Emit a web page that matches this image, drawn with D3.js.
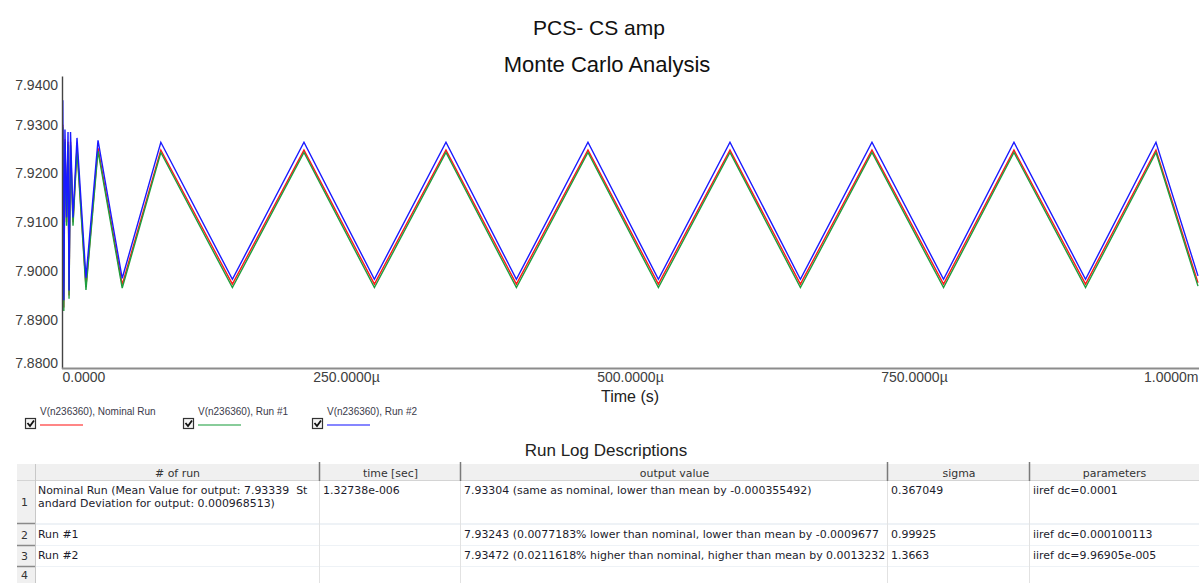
<!DOCTYPE html>
<html>
<head>
<meta charset="utf-8">
<script src="https://cdn.jsdelivr.net/npm/d3@7"></script>
<style>
  body { margin: 0; background: #fff; }
  svg { display: block; font-family: 'Liberation Sans', Arial, sans-serif; }
  svg text { white-space: pre; }
</style>
</head>
<body>
<div id="chart"></div>
<script>
// sample times in microseconds, shared by the three runs
const timeUs = [0, 0.7, 1.6, 2.6, 4.0, 5.3, 6.2, 7.5, 9.7, 13.2, 21.1, 31.7, 53,
  87, 150, 213, 275, 338, 400, 463, 525, 588, 650, 713, 776, 838, 901, 963, 1000]

const nominalRun = [7.8920, 7.9300, 7.8925, 7.9270, 7.9100, 7.9265, 7.8950, 7.9265, 7.9100, 7.9255, 7.8968, 7.9252, 7.8972,
  7.9248, 7.8973, 7.9248, 7.8973, 7.9248, 7.8973, 7.9248, 7.8973, 7.9248, 7.8973, 7.9248, 7.8973, 7.9248, 7.8973, 7.9248, 7.8976]
const run1 = [7.8915, 7.9295, 7.8918, 7.9265, 7.9093, 7.9260, 7.8943, 7.9258, 7.9093, 7.9249, 7.8961, 7.9246, 7.8965,
  7.9243, 7.8966, 7.9243, 7.8966, 7.9243, 7.8966, 7.9243, 7.8966, 7.9243, 7.8966, 7.9243, 7.8966, 7.9243, 7.8966, 7.9243, 7.8969]
const run2 = [7.8935, 7.9350, 7.8940, 7.9290, 7.9110, 7.9285, 7.8960, 7.9285, 7.9110, 7.9273, 7.8986, 7.9268, 7.8985,
  7.9264, 7.8983, 7.9264, 7.8983, 7.9264, 7.8983, 7.9264, 7.8983, 7.9264, 7.8983, 7.9264, 7.8983, 7.9264, 7.8983, 7.9264, 7.8990]

const seriesNames = ['V(n236360), Nominal Run', 'V(n236360), Run #1', 'V(n236360), Run #2']
const seriesColors = ['#ff1a1a', '#1e9e3e', '#1a1aff']

const yTicks = [7.88, 7.89, 7.90, 7.91, 7.92, 7.93, 7.94]
const xTicks = [0, 250, 500, 750, 1000]
const xTickLabels = ['0.0000', '250.0000µ', '500.0000µ', '750.0000µ', '1.0000m']

const tableHeaders = ['# of run', 'time [sec]', 'output value', 'sigma', 'parameters']
const runNameLines = [['Nominal Run (Mean Value for output: 7.93339  St', 'andard Deviation for output: 0.000968513)'], ['Run #1'], ['Run #2'], []]
const runTimes = ['1.32738e-006', '', '', '']
const outputValues = ['7.93304 (same as nominal, lower than mean by -0.000355492)',
  '7.93243 (0.0077183% lower than nominal, lower than mean by -0.0009677',
  '7.93472 (0.0211618% higher than nominal, higher than mean by 0.0013232', '']
const sigmas = ['0.367049', '0.99925', '1.3663', '']
const parameters = ['iiref dc=0.0001', 'iiref dc=0.000100113', 'iiref dc=9.96905e-005', '']

const W = 1199, H = 583
const plot = { left: 62, right: 1198, top: 76, bottom: 368.5 }

const svg = d3.select('#chart').append('svg')
  .attr('width', W).attr('height', H)

svg.append('rect').attr('width', W).attr('height', H).attr('fill', '#fff')

// titles
svg.append('text').attr('x', 599).attr('y', 35)
  .attr('text-anchor', 'middle').attr('font-size', 21).attr('fill', '#111')
  .text('PCS- CS amp')
svg.append('text').attr('x', 607).attr('y', 72)
  .attr('text-anchor', 'middle').attr('font-size', 22).attr('fill', '#111')
  .text('Monte Carlo Analysis')

const x = d3.scaleLinear().domain([0, 1000]).range([plot.left, plot.right])
const y = d3.scaleLinear().domain([7.88, 7.94]).range([plot.bottom, plot.top])

const defs = svg.append('defs')
defs.append('clipPath').attr('id', 'plotclip')
  .append('rect').attr('x', plot.left).attr('y', 70)
  .attr('width', W - plot.left).attr('height', plot.bottom - 70)

const line = d3.line()
  .x((d, i) => x(timeUs[i]))
  .y(d => y(d))

const lines = svg.append('g').attr('clip-path', 'url(#plotclip)')
;[nominalRun, run1, run2].forEach((s, k) => {
  lines.append('path')
    .datum(s)
    .attr('fill', 'none')
    .attr('stroke', seriesColors[k])
    .attr('stroke-width', 1.4)
    .attr('d', line)
})

// y axis
const yAxis = svg.append('g')
  .attr('transform', `translate(${plot.left},0)`)
  .call(d3.axisLeft(y).tickValues(yTicks).tickFormat(d3.format('.4f')).tickSize(0).tickPadding(4))
yAxis.select('.domain').attr('stroke', '#444').attr('stroke-width', 1.4)
yAxis.selectAll('text')
  .attr('font-family', "'Liberation Sans', Arial, sans-serif")
  .attr('font-size', 14).attr('fill', '#404040')
  .attr('dy', (d, i) => i === 0 ? '-0.05em' : (i === yTicks.length - 1 ? '0.95em' : '0.32em'))

// x axis
const xAxis = svg.append('g')
  .attr('transform', `translate(0,${plot.bottom})`)
  .call(d3.axisBottom(x).tickValues(xTicks).tickFormat((d, i) => xTickLabels[i]).tickSize(0).tickPadding(4))
xAxis.select('.domain').remove()
xAxis.append('line')
  .attr('x1', plot.left).attr('x2', W).attr('y1', 0).attr('y2', 0)
  .attr('stroke', '#8c8c8c').attr('stroke-width', 2)
xAxis.selectAll('text')
  .attr('font-family', "'Liberation Sans', Arial, sans-serif")
  .attr('font-size', 14).attr('fill', '#404040')
  .attr('text-anchor', (d, i) => i === 0 ? 'start' : (i === xTicks.length - 1 ? 'end' : 'middle'))

svg.append('text').attr('x', 630).attr('y', 402)
  .attr('text-anchor', 'middle').attr('font-size', 16).attr('fill', '#222')
  .text('Time (s)')

// legend
const legendX = [25, 183, 312]
const legend = svg.selectAll('.legend')
  .data(seriesNames)
  .enter().append('g')
  .attr('class', 'legend')
  .attr('transform', (d, i) => `translate(${legendX[i]},0)`)

legend.append('rect')
  .attr('x', 0.5).attr('y', 418.5).attr('width', 10).attr('height', 10)
  .attr('fill', '#f4f4f4').attr('stroke', '#333').attr('stroke-width', 1.2)
legend.append('path')
  .attr('d', 'M2.5,423 L5,426 L9,420.5')
  .attr('fill', 'none').attr('stroke', '#111').attr('stroke-width', 1.8)
legend.append('text')
  .attr('x', 15).attr('y', 415)
  .attr('font-size', 10).attr('fill', '#3a3a4a')
  .text(d => d)
legend.append('line')
  .attr('x1', 15).attr('x2', 58).attr('y1', 425).attr('y2', 425)
  .attr('stroke', (d, i) => seriesColors[i]).attr('stroke-opacity', 0.7).attr('stroke-width', 1.5)

// run log table
svg.append('text').attr('x', 606).attr('y', 456)
  .attr('text-anchor', 'middle').attr('font-size', 17).attr('fill', '#222')
  .text('Run Log Descriptions')

const colEdges = [17, 35, 320, 461, 888, 1030, W]
const headTop = 464, headBottom = 481
const rowTops = [481, 525, 546, 567]
const rowBottoms = [523, 545, 566, 583]
const tableFont = "'DejaVu Sans', Verdana, sans-serif"

// one clip per column so long cell text is cut at the column edge
colEdges.slice(1, 6).forEach((cx, c) => {
  defs.append('clipPath').attr('id', 'colclip' + c)
    .append('rect').attr('x', cx).attr('y', headTop)
    .attr('width', colEdges[c + 2] - cx - 2).attr('height', H - headTop)
})

const table = svg.append('g').attr('font-family', tableFont).attr('font-size', 10.95)

// header
table.append('rect').attr('x', colEdges[0]).attr('y', headTop)
  .attr('width', W - colEdges[0]).attr('height', headBottom - headTop)
  .attr('fill', '#f0f0f0')
table.append('line').attr('x1', colEdges[0]).attr('x2', W)
  .attr('y1', headBottom - 0.5).attr('y2', headBottom - 0.5)
  .attr('stroke', '#d4d4d4')
tableHeaders.forEach((h, c) => {
  const x0 = colEdges[c + 1], x1 = colEdges[c + 2]
  table.append('text')
    .attr('x', (x0 + x1) / 2).attr('y', headTop + 12.5)
    .attr('text-anchor', 'middle').attr('fill', '#333')
    .text(h)
  if (c > 0) {
    table.append('line').attr('x1', x0 - 0.5).attr('x2', x0 - 0.5)
      .attr('y1', headTop - 2).attr('y2', headBottom)
      .attr('stroke', '#7a7a7a').attr('stroke-width', 1.5)
  }
})

// row number column
table.append('rect').attr('x', colEdges[0]).attr('y', headBottom)
  .attr('width', colEdges[1] - colEdges[0]).attr('height', H - headBottom)
  .attr('fill', '#f0f0f0')
table.append('line').attr('x1', colEdges[1] + 0.5).attr('x2', colEdges[1] + 0.5)
  .attr('y1', headTop).attr('y2', H)
  .attr('stroke', '#c8c8c8')

rowTops.forEach((top, r) => {
  const bottom = rowBottoms[r]
  table.append('text')
    .attr('x', 21).attr('y', (top + bottom) / 2 + 4)
    .attr('fill', '#333')
    .text(r + 1)
  if (r < rowTops.length - 1) {
    // gap between rows
    table.append('rect').attr('x', colEdges[1] + 1).attr('y', bottom)
      .attr('width', W - colEdges[1]).attr('height', rowTops[r + 1] - bottom)
      .attr('fill', '#eef2f6')
    table.append('line').attr('x1', colEdges[0]).attr('x2', colEdges[1])
      .attr('y1', bottom + 0.5).attr('y2', bottom + 0.5)
      .attr('stroke', '#8a8a8a').attr('stroke-width', 1.5)
  }
  const base = top + 13
  ;(runNameLines[r]).forEach((t, k) => {
    table.append('text').attr('x', colEdges[1] + 3).attr('y', base + k * 13)
      .attr('clip-path', 'url(#colclip0)')
      .attr('fill', '#1c1c2c').text(t)
  })
  const cells = [runTimes[r], outputValues[r], sigmas[r], parameters[r]]
  cells.forEach((t, c) => {
    table.append('text').attr('x', colEdges[c + 2] + 3).attr('y', base)
      .attr('clip-path', `url(#colclip${c + 1})`)
      .attr('fill', '#1c1c2c').text(t)
  })
})

// light column lines in body
colEdges.slice(2, 6).forEach(cx => {
  table.append('line').attr('x1', cx - 0.5).attr('x2', cx - 0.5)
    .attr('y1', headBottom).attr('y2', H)
    .attr('stroke', '#e2e2e2')
})
</script>
</body>
</html>
